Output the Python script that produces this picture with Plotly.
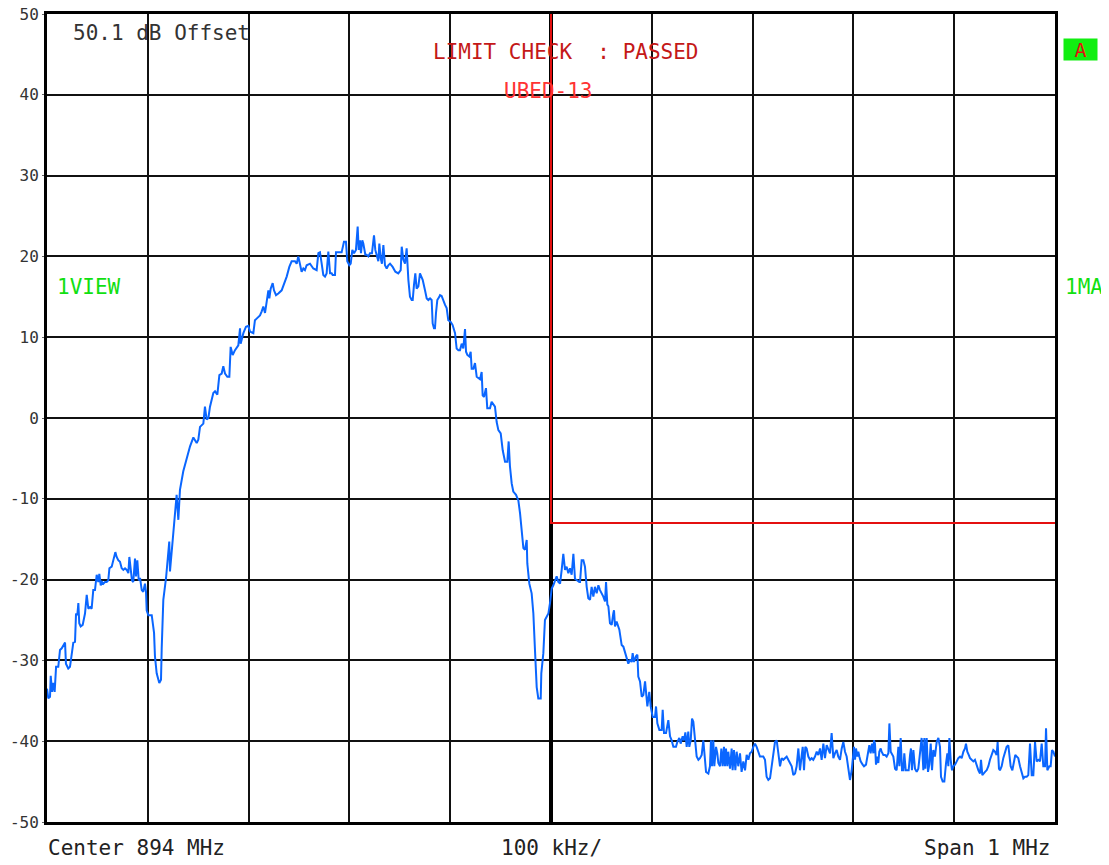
import plotly.graph_objects as go

# ---- data (frequency offset from centre in kHz, level in dB) ----
center_mhz = 894
span_mhz = 1

lower_sideband = [
    (-500, -33.5), (-498.7, -34.7), (-497, -34.5), (-496.3, -31.9), (-495, -33.9), (-493.7, -32.8),
    (-492.4, -33.9), (-491, -30.8), (-488.8, -30.8), (-487.1, -28.7), (-485.4, -28.5), (-483.1, -27.9),
    (-482.1, -27.8), (-481.2, -30.4), (-478.9, -31.0), (-477.2, -30.8), (-475.5, -29.5), (-473.9, -27.8),
    (-472.2, -27.7), (-471.2, -24.2), (-469.9, -24.4), (-468.9, -22.9), (-468, -25.4), (-466.6, -25.8),
    (-464.6, -25.6), (-462.3, -24.2), (-460.6, -21.9), (-459, -23.6), (-457.3, -23.4), (-455.7, -23.6),
    (-454.1, -21.3), (-452.4, -21.3), (-450.7, -19.4), (-449.1, -20.3), (-448.1, -19.3), (-446.7, -20.7),
    (-445.4, -20.3), (-444.1, -20.5), (-442.5, -20.3), (-440.8, -20.3), (-439.2, -20.1), (-438.1, -18.6),
    (-435.8, -18.4), (-433.5, -17.2), (-432.2, -16.6), (-430.9, -17.2), (-429.3, -17.6), (-427.6, -17.8),
    (-425.9, -18.6), (-424.3, -18.8), (-422.6, -18.6), (-420.9, -18.8), (-419.3, -19.2), (-418.3, -17.2),
    (-417, -18.8), (-415.7, -20.1), (-414.4, -20.3), (-412.7, -17.4), (-411.7, -19.6), (-410.4, -17.6),
    (-409, -20.1), (-407.7, -19.8), (-406, -21.3), (-404.5, -21.5), (-402.8, -20.5), (-401.8, -21.5),
]

lower_notch = [
    (-401.1, -23.8), (-399.5, -24.4), (-396.1, -24.4), (-393.8, -26.6), (-392.9, -29.5), (-391.2, -31.6),
    (-388.6, -32.8), (-386.9, -32.4), (-386.2, -28.5), (-384.6, -22.5), (-381.9, -19.8), (-378.7, -15.3),
    (-378, -19.0), (-375.3, -15.1), (-373, -12.6), (-371.4, -9.5), (-369.7, -12.6), (-368.1, -8.9),
]

main_lobe_rise = [
    (-364.8, -6.6), (-361.4, -5.0), (-358.1, -3.5), (-354.8, -2.4), (-351.5, -3.1), (-349.9, -2.7),
    (-348.2, -1.1), (-344.9, -0.7), (-343.3, 1.4), (-341.6, -0.2), (-339.9, 0.0), (-338.3, 1.4),
    (-336.6, 2.2), (-335, 3.1), (-333.3, 3.3), (-331, 2.9), (-329, 5.3), (-326.7, 5.5), (-325.1, 6.4),
    (-323.4, 5.5), (-321.1, 5.1), (-319.1, 5.1), (-317.8, 8.8), (-315.8, 7.8), (-313.5, 8.4),
    (-310.2, 9.0), (-308.5, 11.1), (-307.9, 9.2), (-305.2, 10.5), (-302.6, 11.3), (-300.3, 11.4),
    (-298.6, 10.7), (-295.3, 10.5), (-293.7, 12.1), (-292, 12.3), (-290.3, 12.5), (-288.7, 12.7),
    (-287, 13.2), (-285.4, 13.8), (-283.7, 13.0), (-282.1, 14.6), (-280.4, 15.8), (-279.4, 14.8),
    (-278.1, 16.0), (-276.1, 16.7), (-274.8, 15.8), (-272.8, 15.2), (-270.5, 15.4), (-267.2, 15.8),
    (-264.9, 16.5), (-262.2, 17.5), (-259.6, 18.7), (-257.3, 19.4), (-254, 19.4), (-252.3, 19.1),
    (-250.7, 20.0), (-249, 18.9), (-247.4, 18.1), (-245.7, 18.5), (-244.1, 18.3), (-242.4, 18.9),
]

main_lobe_top = [
    (-239.1, 19.1), (-235.8, 18.5), (-232.5, 18.3), (-230.8, 20.4), (-229.2, 20.5), (-227.5, 19.1),
    (-225.9, 17.7), (-224.2, 17.5), (-222.6, 17.9), (-220.9, 20.6), (-219.2, 17.9), (-217.6, 17.9),
    (-216.6, 17.7), (-214.3, 17.7), (-213.3, 20.5), (-211, 20.5), (-207.7, 20.5), (-205.4, 21.8),
    (-203.4, 21.8), (-202.1, 19.4), (-200.1, 18.9), (-198.7, 19.1), (-197.1, 20.8), (-195.4, 20.4),
    (-193.5, 20.8), (-191.8, 23.7), (-190.8, 20.8), (-189.5, 22.0), (-188.5, 20.4), (-187.2, 22.0),
    (-186.2, 21.6), (-184.2, 20.2), (-182.9, 20.2), (-181.2, 20.0), (-179.6, 20.4), (-177.6, 20.4),
    (-175.6, 22.6), (-174.3, 20.8), (-172.9, 20.2), (-171.3, 19.4), (-170.3, 21.6), (-169, 19.8),
    (-167.7, 19.1), (-166.3, 21.4), (-164.7, 18.9), (-163, 18.5), (-161.4, 18.9), (-159.7, 19.1),
    (-157.1, 18.7), (-154.4, 18.1), (-151.5, 17.9), (-149.1, 18.3), (-148.1, 21.2), (-146.5, 19.6),
    (-144.8, 19.1), (-143.2, 21.0), (-141.5, 17.1), (-139.9, 15.0), (-138.2, 14.6), (-137.2, 14.6),
    (-135.9, 16.5), (-134.6, 17.9), (-133.3, 16.0), (-131.6, 16.3), (-130, 17.9), (-127.3, 17.1),
    (-125, 15.8), (-123.3, 14.8), (-121.7, 14.6), (-120, 14.8), (-118.4, 14.6), (-117.4, 11.7),
    (-116.1, 11.1), (-115.1, 11.1), (-114.1, 13.0), (-112.8, 14.6), (-110.8, 15.0),
]

main_lobe_fall = [
    (-110.1, 15.2), (-108.5, 15.1), (-106.8, 14.4), (-105.1, 14.0), (-103.5, 13.6), (-101.9, 12.1),
    (-99.5, 11.9), (-97.6, 11.5), (-95.2, 10.5), (-93.6, 8.6), (-91.9, 8.4), (-90.3, 8.4), (-88.6, 9.2),
    (-87.0, 8.6), (-85.3, 11.0), (-84.3, 8.2), (-83.0, 7.8), (-81.0, 7.6), (-79.7, 8.2), (-78.7, 6.1),
    (-77.0, 6.1), (-75.4, 6.8), (-73.7, 5.1), (-70.4, 4.8), (-68.8, 5.7), (-67.8, 2.8), (-66.5, 2.6),
    (-64.5, 3.7), (-63.2, 1.2), (-60.5, 1.2), (-58.9, 2.0), (-57.2, 1.6), (-55.6, 1.4), (-53.9, -0.5),
    (-52.2, -1.5), (-49.9, -1.9), (-47.9, -4.0), (-45.6, -5.4), (-43.3, -5.4), (-42.0, -2.9),
    (-40.7, -6.0), (-39.0, -8.1), (-37.4, -9.1), (-34.7, -9.5), (-32.4, -10.2), (-30.7, -11.8),
    (-29.1, -13.9), (-27.4, -16.1), (-25.8, -16.3), (-24.1, -15.1), (-23.5, -18.0), (-21.5, -20.5),
    (-19.2, -21.7), (-17.5, -24.2), (-15.9, -28.7), (-14.2, -33.3), (-12.6, -34.7), (-10.2, -34.7),
    (-9.6, -31.6), (-7.6, -29.1), (-6.0, -25.0), (-2.6, -24.2), (-1.0, -22.9),
]

upper_sideband = [
    (0.7, -21.1), (2.3, -20.7), (4.0, -20.1), (5.6, -19.6), (7.3, -20.3), (9.0, -20.5), (10.6, -18.8),
    (12.2, -16.8), (13.9, -18.8), (15.5, -18.4), (17.2, -19.2), (18.8, -18.6), (20.5, -19.4),
    (22.2, -16.8), (23.8, -19.9), (25.5, -20.1), (28.1, -20.3), (28.8, -20.3), (30.4, -17.6),
    (32.1, -17.6), (33.7, -18.4), (35.4, -20.9), (37.0, -22.3), (38.7, -22.5), (40.3, -20.9),
    (42.0, -22.1), (43.6, -20.9), (45.3, -21.7), (47.0, -20.7), (48.6, -21.3), (50.3, -21.7),
    (51.9, -22.1), (53.6, -22.7), (54.6, -20.3), (55.9, -23.1), (56.9, -23.3), (58.5, -25.4),
    (60.2, -25.6), (61.8, -24.2), (62.5, -23.8), (63.5, -25.8), (65.1, -25.2), (67.8, -26.2),
    (70.1, -28.1), (71.8, -28.3), (73.4, -29.1), (75.1, -29.7), (76.7, -30.4), (78.4, -29.9),
    (80.0, -30.2), (81.0, -29.1), (82.3, -30.2), (84.3, -29.5), (85.7, -29.3), (86.6, -32.0),
    (88.3, -32.6), (90.0, -34.5), (91.6, -34.3), (93.3, -32.6), (94.2, -34.1), (95.6, -35.7),
    (97.5, -33.9), (98.9, -35.7), (100.9, -37.0), (103.2, -37.0), (104.2, -35.7), (105.5, -37.8),
    (107.5, -38.6), (109.8, -38.6), (110.8, -36.1), (112.1, -39.0), (114.1, -39.0), (116.4, -37.4),
    (118.1, -39.4), (119.7, -39.9), (121.4, -40.7), (124.0, -40.7), (125.3, -40.1), (127.3, -39.6),
    (128.6, -40.3), (130.6, -39.4), (132.0, -39.9), (133.3, -38.9), (134.6, -40.7), (136.2, -38.8),
    (137.2, -40.7), (138.6, -39.9), (139.9, -37.2), (141.2, -37.6),
]

noise_floor_a = [
    (144.5, -41.9), (146.2, -42.3), (147.8, -42.1), (149.5, -41.7), (151.1, -39.9), (152.1, -41.9),
    (153.8, -43.8), (156.1, -44.0), (157.7, -43.1), (158.7, -39.9), (159.7, -43.1), (161.0, -39.9),
    (162.0, -43.1), (163.7, -40.7), (165.0, -41.5), (166.0, -42.7), (167.7, -43.1), (169.0, -40.9),
    (170.3, -43.1), (171.6, -40.7), (172.6, -43.1), (173.6, -40.9), (174.9, -43.1), (175.9, -41.3),
    (177.6, -43.4), (179.2, -40.9), (180.2, -43.6), (181.5, -41.1), (182.9, -43.6), (184.2, -41.3),
    (185.8, -43.1), (187.5, -41.5), (189.1, -43.8), (190.8, -42.5), (192.5, -43.6), (194.1, -41.7),
    (195.8, -42.3), (197.4, -41.5), (199.1, -41.3), (200.7, -40.7), (202.4, -40.3), (204.0, -40.7),
    (205.7, -41.3), (207.3, -41.9), (210.6, -41.9), (212.3, -42.3), (213.9, -44.4), (215.6, -44.8),
    (217.3, -44.6), (218.9, -43.1), (220.6, -41.1), (222.2, -40.1), (223.9, -39.9), (225.5, -41.9),
    (227.2, -43.1), (228.8, -42.1), (230.5, -42.3), (232.1, -42.1), (233.8, -41.9), (235.4, -42.3),
    (237.1, -42.7), (238.8, -43.1), (240.4, -44.2), (242.1, -44.0), (243.7, -43.1), (245.4, -40.9),
    (247.0, -43.6), (248.7, -41.9), (249.7, -40.7), (251.0, -43.6), (252.3, -40.7), (253.6, -40.9),
    (255.3, -41.9), (257.0, -42.3), (258.6, -42.1), (260.2, -42.3), (261.9, -41.9), (263.6, -41.3),
    (265.2, -41.7), (266.9, -40.9), (268.5, -42.3), (270.2, -40.3), (271.8, -42.1), (273.5, -40.5),
    (275.1, -40.9), (276.8, -41.5), (278.4, -39.0), (280.1, -42.1), (281.7, -41.5), (283.4, -41.1),
    (285.0, -41.9), (286.7, -42.3), (288.4, -40.9), (290.0, -40.1), (291.7, -41.3), (293.3, -41.9),
    (295.0, -43.4), (296.0, -44.6),
]

noise_floor_b = [
    (296.6, -44.8), (298.3, -43.6), (299.9, -41.9), (300.6, -40.7), (301.6, -42.3), (302.6, -40.9),
    (303.9, -41.9), (304.9, -41.3), (305.9, -41.9), (307.2, -42.5), (309.2, -42.9), (310.5, -43.1),
    (312.5, -42.9), (313.8, -41.9), (314.8, -40.7), (315.8, -40.5), (317.1, -41.5), (318.5, -40.3),
    (319.8, -41.5), (320.4, -39.9), (321.4, -40.3), (322.4, -42.9), (323.7, -41.9), (324.7, -42.7),
    (325.7, -41.3), (327.1, -40.9), (328.0, -41.3), (329.7, -41.7), (331.4, -41.7), (333.0, -41.9),
    (334.7, -41.5), (335.7, -37.8), (337.0, -41.3), (338.3, -41.7), (339.6, -41.9), (341.3, -43.4),
    (342.9, -43.6), (344.6, -40.7), (345.6, -43.1), (346.9, -39.6), (348.2, -43.6), (349.5, -43.6),
    (350.5, -41.5), (351.9, -43.6), (353.5, -43.6), (354.8, -43.6), (356.2, -41.7), (357.1, -40.9),
    (358.1, -43.6), (359.5, -41.1), (361.1, -43.4), (362.8, -43.8), (364.4, -43.4), (366.1, -41.1),
    (367.7, -39.6), (369.4, -43.6), (370.4, -39.6), (371.4, -43.4), (372.7, -39.6), (374.0, -43.8),
    (375.3, -42.9), (376.7, -40.3), (378.0, -43.6), (379.3, -41.1), (380.9, -41.9), (382.6, -40.1),
    (384.3, -39.6), (385.9, -40.7), (386.9, -44.4), (388.6, -45.0), (390.2, -45.0), (391.9, -42.7),
    (393.2, -41.5), (394.2, -43.1), (395.2, -39.6), (396.5, -42.3), (397.8, -43.6), (399.1, -43.1),
]

noise_floor_c = [
    (400.8, -42.9), (402.5, -42.5), (404.1, -42.1), (405.8, -41.9), (407.4, -42.1), (409.1, -41.3),
    (410.7, -40.9), (411.7, -40.3), (413.0, -41.3), (414.4, -41.7), (415.7, -42.1), (417.3, -42.3),
    (419.0, -42.5), (420.6, -42.3), (422.3, -43.1), (424.0, -43.6), (425.6, -44.0), (426.6, -42.3),
    (427.9, -44.2), (428.9, -44.0), (430.6, -43.8), (432.2, -43.6), (433.9, -43.1), (435.5, -42.3),
    (437.2, -41.5), (438.8, -41.1), (440.5, -41.3), (442.1, -41.7), (443.1, -40.1), (444.4, -43.4),
    (445.4, -43.6), (447.1, -43.1), (448.7, -42.1), (450.4, -41.5), (452.0, -40.7), (453.7, -40.5),
    (454.7, -41.7), (456.0, -43.1), (457.7, -43.6), (459.3, -42.3), (460.6, -41.7), (462.0, -41.9),
    (463.6, -42.1), (465.3, -43.1), (466.9, -43.8), (468.6, -44.6), (470.2, -44.4), (471.9, -44.4),
    (473.5, -44.2), (475.2, -40.3), (476.9, -44.2), (478.5, -44.2), (480.2, -40.1), (481.8, -42.5),
    (483.5, -42.3), (485.1, -42.5), (486.8, -40.3), (488.4, -43.1), (490.1, -43.1), (491.1, -38.4),
    (492.4, -43.6), (494.4, -43.1), (495.7, -43.1), (497.0, -41.1), (498.4, -41.3), (500.0, -41.9),
]

# limit line "UBED-13": vertical at centre, then -13 dB to the upper band edge
limit_freq_khz = [0, 0, 500]
limit_level_db = [50, -13, -13]

y_tick_values = [50, 40, 30, 20, 10, 0, -10, -20, -30, -40, -50]

segments = [lower_sideband, lower_notch, main_lobe_rise, main_lobe_top,
            main_lobe_fall, upper_sideband, noise_floor_a, noise_floor_b, noise_floor_c]
points = [p for seg in segments for p in seg]
freq_khz = [p[0] for p in points]
level_db = [p[1] for p in points]

# ---- figure (page body has an 8 px margin, so the figure is 8 px smaller) ----
OFF = 8
W, H = 1109 - OFF, 865 - OFF
L, R, T, B = 47 - OFF, 54, 14 - OFF, 43
mono = "DejaVu Sans Mono"

fig = go.Figure()
fig.add_trace(go.Scatter(x=freq_khz, y=level_db, mode="lines",
                         line=dict(color="#0a66ff", width=2), hoverinfo="skip"))
fig.add_trace(go.Scatter(x=limit_freq_khz, y=limit_level_db, mode="lines",
                         line=dict(color="#e41010", width=2), hoverinfo="skip"))

fig.update_layout(
    width=W, height=H,
    margin=dict(l=L, r=R, t=T, b=B, autoexpand=False),
    paper_bgcolor="white", plot_bgcolor="white",
    showlegend=False,
    xaxis=dict(range=[-500, 500], tick0=0, dtick=100, showticklabels=False,
               showgrid=True, gridcolor="#111111", gridwidth=2,
               zeroline=True, zerolinecolor="#000000", zerolinewidth=4,
               showline=True, linecolor="#000000", linewidth=3, mirror=True,
               ticks="", fixedrange=True),
    yaxis=dict(range=[-50, 50], tickvals=y_tick_values,
               ticktext=[str(v) for v in y_tick_values],
               ticklabeloverflow="allow",
               showgrid=True, gridcolor="#111111", gridwidth=2,
               zeroline=True, zerolinecolor="#111111", zerolinewidth=2,
               showline=True, linecolor="#000000", linewidth=3, mirror=True,
               ticks="outside", ticklen=2, tickcolor="#666666",
               tickfont=dict(family=mono, size=16, color="#333333"), fixedrange=True),
)

pw, ph = W - L - R, H - T - B


def px(x):
    # page pixel x -> paper fraction
    return (x - OFF - L) / pw


def py(y):
    # page pixel y -> paper fraction
    return (H - B - (y - OFF)) / ph


ann = [
    dict(text="50.1 dB Offset", x=px(71), y=py(33), xanchor="left", yanchor="middle",
         font=dict(family=mono, size=21, color="#333333")),
    dict(text="LIMIT CHECK  : PASSED", x=px(566), y=py(52), xanchor="center", yanchor="middle",
         font=dict(family=mono, size=21, color="#c41818")),
    dict(text="UBED-13", x=px(548), y=py(91), xanchor="center", yanchor="middle",
         font=dict(family=mono, size=21, color="#ff3333")),
    dict(text="1VIEW", x=px(55), y=py(287), xanchor="left", yanchor="middle",
         font=dict(family=mono, size=21, color="#11e011")),
    dict(text="1MA", x=px(1063), y=py(287), xanchor="left", yanchor="middle",
         font=dict(family=mono, size=21, color="#11e011")),
    dict(text="A", x=px(1080), y=py(49), xanchor="center", yanchor="middle",
         font=dict(family=mono, size=20, color="#e41010"),
         bgcolor="#11ee11", width=31, height=19, borderpad=1),
    dict(text=f"Center {center_mhz} MHz", x=px(46), y=py(848), xanchor="left", yanchor="middle",
         font=dict(family=mono, size=21, color="#222222")),
    dict(text="100 kHz/", x=px(551), y=py(848), xanchor="center", yanchor="middle",
         font=dict(family=mono, size=21, color="#222222")),
    dict(text=f"Span {span_mhz} MHz", x=px(1052), y=py(848), xanchor="right", yanchor="middle",
         font=dict(family=mono, size=21, color="#222222")),
]
for a in ann:
    a.update(xref="paper", yref="paper", showarrow=False)
fig.update_layout(annotations=ann)

fig.write_html("out.html")
